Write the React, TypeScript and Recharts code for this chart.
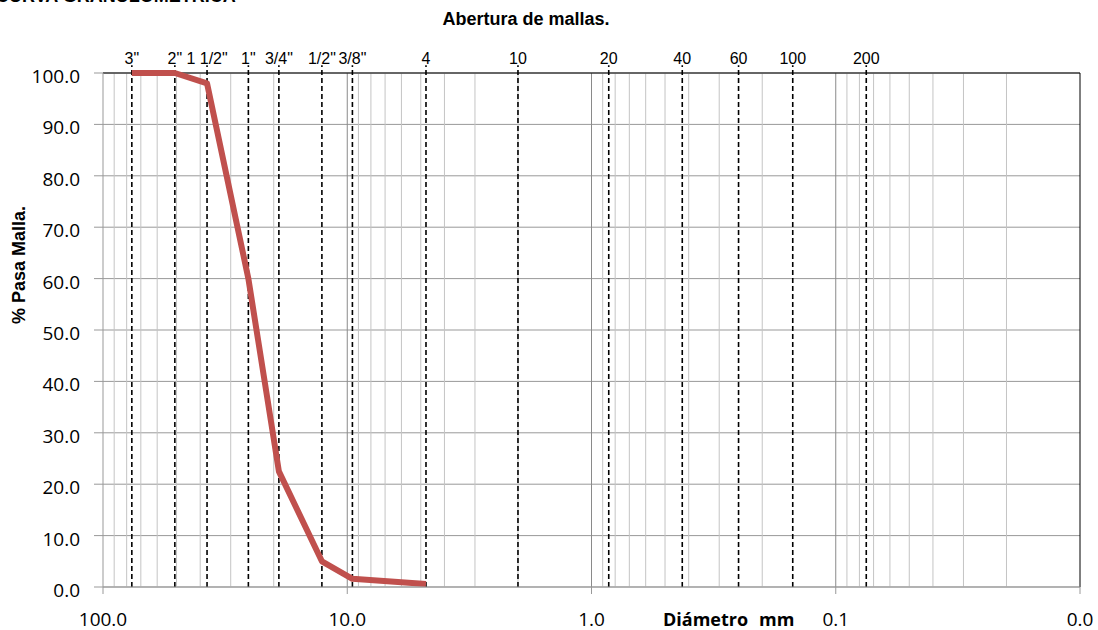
import React from "react";
import {
  LineChart,
  Line,
  XAxis,
  YAxis,
  CartesianGrid,
  ReferenceLine,
} from "recharts";

// Sieve series (ASTM) and their openings in mm
const sieveNames = ['3"', '2"', '1 1/2"', '1"', '3/4"', '1/2"', '3/8"', "4", "10", "20", "40", "60", "100", "200"];
const sieveOpenings = [76.2, 50.8, 37.5, 25.4, 19.05, 12.7, 9.525, 4.76, 2.0, 0.85, 0.425, 0.25, 0.15, 0.075];

// Grading curve read from the lab sheet
const curveDiameters = [76.2, 50.8, 37.5, 25.4, 19.05, 12.7, 9.525, 4.76];
const curvePassing = [100, 100, 98, 60, 22.5, 5, 1.6, 0.6];

// Axis ticks
const xTicks = [100, 10, 1, 0.1, 0.01];
const yTicks = [0, 10, 20, 30, 40, 50, 60, 70, 80, 90, 100];
const majorDecades = [10, 1, 0.1];
const minorDecades = [10, 1, 0.1, 0.01];
const minorFactors = [2, 3, 4, 5, 6, 7, 8, 9];

const TICK_FONT = "'Open Sans', sans-serif";
const TITLE_FONT = "'Liberation Sans', Arial, sans-serif";

const YTick = (props: any) => {
  const { x, y, payload } = props;
  return (
    <text x={x} y={y} dy={10} textAnchor="end" fontFamily={TICK_FONT} fontSize={19} fill="#000">
      {Number(payload.value).toFixed(1)}
    </text>
  );
};

const XTick = (props: any) => {
  const { x, y, payload } = props;
  return (
    <text x={x} y={y} dy={13.5} textAnchor="middle" fontFamily={TICK_FONT} fontSize={19} fill="#000">
      {Number(payload.value).toFixed(1)}
    </text>
  );
};

export default function App() {
  const chartData = curveDiameters.map((d, i) => ({ size: d, passing: curvePassing[i] }));
  const minorLines = minorDecades.flatMap((dec) => minorFactors.map((f) => dec * f));

  return (
    <div style={{ position: "absolute", left: 0, top: 0, width: 1098, height: 630, background: "#fff", overflow: "hidden" }}>
      <LineChart
        width={1098}
        height={630}
        data={chartData}
        margin={{ top: 73, right: 18, bottom: 0, left: 0 }}
      >
        <CartesianGrid vertical={false} stroke="#999" />
        <XAxis
          dataKey="size"
          type="number"
          scale="log"
          domain={[0.01, 100]}
          reversed
          allowDataOverflow
          ticks={xTicks}
          interval={0}
          height={43}
          tickSize={7}
          tickMargin={18}
          stroke="#999"
          tick={XTick}
        />
        <YAxis
          type="number"
          domain={[0, 100]}
          ticks={yTicks}
          interval={0}
          width={103}
          tickSize={9}
          tickMargin={14}
          stroke="#999"
          tick={YTick}
        />

        {/* minor and major log gridlines */}
        {minorLines.map((v) => (
          <ReferenceLine key={"mn" + v} x={v} stroke="#c4c4c4" ifOverflow="hidden" />
        ))}
        {majorDecades.map((v) => (
          <ReferenceLine key={"mj" + v} x={v} stroke="#8a8a8a" ifOverflow="hidden" />
        ))}
        <ReferenceLine y={100} stroke="#000" />
        <ReferenceLine x={0.01} stroke="#000" />

        {/* sieve openings, dashed */}
        {sieveOpenings.map((s, i) => (
          <ReferenceLine
            key={"sv" + i}
            segment={[
              { x: s, y: 0 },
              { x: s, y: 101.5 },
            ]}
            stroke="#000"
            strokeWidth={1.6}
            strokeDasharray="5 3"
            ifOverflow="visible"
            label={{
              value: sieveNames[i],
              position: "top",
              offset: 1,
              fontSize: 16,
              fill: "#000",
              fontFamily: TITLE_FONT,
            }}
          />
        ))}

        <Line
          type="linear"
          dataKey="passing"
          stroke="#C0504D"
          strokeWidth={6}
          strokeLinejoin="round"
          dot={false}
          isAnimationActive={false}
        />
      </LineChart>

      <svg width={1098} height={630} style={{ position: "absolute", left: 0, top: 0, pointerEvents: "none" }}>
        <text x={-4} y={2} fontFamily={TITLE_FONT} fontWeight="bold" fontSize={18} fill="#000">
          CURVA GRANULOMETRICA
        </text>
        <text x={526} y={25} textAnchor="middle" fontFamily={TITLE_FONT} fontWeight="bold" fontSize={18} fill="#000">
          Abertura de mallas.
        </text>
        <text
          x={25}
          y={265}
          transform="rotate(-90, 25, 265)"
          textAnchor="middle"
          fontFamily={TITLE_FONT}
          fontWeight="bold"
          fontSize={18}
          fill="#000"
        >
          % Pasa Malla.
        </text>
        <text x={663} y={626} fontFamily={TICK_FONT} fontWeight="bold" fontSize={18} fill="#000">
          Diámetro
        </text>
        <text x={759} y={626} fontFamily={TICK_FONT} fontWeight="bold" fontSize={18} fill="#000">
          mm
        </text>
      </svg>
    </div>
  );
}
